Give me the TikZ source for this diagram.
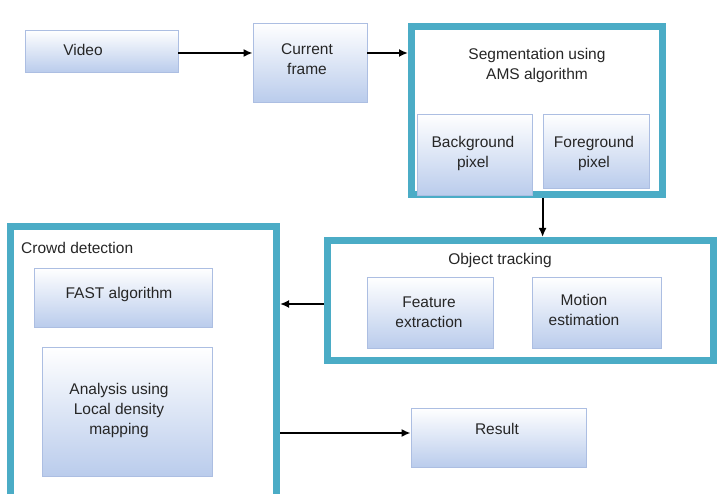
\documentclass[tikz,border=0pt]{standalone}
\usepackage{fontspec}
\setmainfont{Liberation Sans}
\usetikzlibrary{arrows.meta,calc}
\definecolor{frameblue}{RGB}{75,172,198}
\definecolor{boxedge}{RGB}{172,190,226}
\definecolor{boxfill}{RGB}{186,204,236}
\tikzset{
  box/.style={draw=boxedge, top color=white, bottom color=boxfill, line width=0.8pt, inner sep=0pt},
  frame/.style={draw=frameblue, line width=7pt, fill=white, inner sep=0pt},
  lbl/.style={font=\fontsize{15.5}{20}\selectfont, align=center, inner sep=0pt, text=black!85},
  arr/.style={draw=black, line width=1.8pt, -{Latex[length=9pt,width=8pt]}}
}
\begin{document}
\begin{tikzpicture}[x=1pt,y=-1pt]
\useasboundingbox (0,0) rectangle (721,494);
\clip (0,0) rectangle (721,494);
% containers
\node[frame, minimum width=251pt, minimum height=168pt] (seg) at (537,110.5) {};
\node[frame, minimum width=386pt, minimum height=120pt] (obj) at (520.5,300.5) {};
\node[frame, minimum width=266pt, minimum height=300pt] (crowd) at (143.5,376.5) {};
% boxes
\node[box, minimum width=153pt, minimum height=42pt] (video) at (101.5,51) {};
\node[box, minimum width=114pt, minimum height=79pt] (cur) at (310,62.5) {};
\node[box, minimum width=115pt, minimum height=81pt] (bg) at (474.5,154.5) {};
\node[box, minimum width=106pt, minimum height=74pt] (fg) at (596,151) {};
\node[box, minimum width=126pt, minimum height=71pt] (feat) at (430,312.5) {};
\node[box, minimum width=129pt, minimum height=71pt] (mot) at (596.5,312.5) {};
\node[box, minimum width=175pt, minimum height=59pt] (res) at (498.5,437.5) {};
\node[box, minimum width=178pt, minimum height=59pt] (fast) at (123,297.5) {};
\node[box, minimum width=170pt, minimum height=129pt] (ana) at (127,411.5) {};
% texts
\node[lbl] (tvideo) at (83,50) {Video};
\node[lbl] (tcur) at (307,59) {Current\\frame};
\node[lbl] (tseg) at (537,65) {Segmentation using\\AMS algorithm};
\node[lbl] (tbg) at (473,153) {Background\\pixel};
\node[lbl] (tfg) at (594,153) {Foreground\\pixel};
\node[lbl] (tobj) at (500,260) {Object tracking};
\node[lbl] (tfeat) at (429,312) {Feature\\extraction};
\node[lbl] (tmot) at (584,310) {Motion\\estimation};
\node[lbl] (tres) at (497,429) {Result};
\node[lbl, anchor=west] (tcrowd) at (21,248) {Crowd detection};
\node[lbl] (tfast) at (119,294) {FAST algorithm};
\node[lbl] (tana) at (119,410) {Analysis using\\Local density\\mapping};
% connectors
\draw[arr] ([yshift=-2pt]video.east) -- ([yshift=-2pt]video.east -| cur.west);
\draw[arr] ([yshift=-2pt]video.east -| cur.east) -- ([yshift=-2pt]video.east -| seg.west);
\draw[arr] (fg.south west |- seg.south) -- (fg.south west |- obj.north);
\draw[arr] ([yshift=-3.5pt]obj.west) -- ([yshift=-3.5pt]obj.west -| crowd.east);
\draw[arr] ([yshift=4.5pt]res.west -| crowd.east) -- ([yshift=4.5pt]res.west);
\end{tikzpicture}
\end{document}
